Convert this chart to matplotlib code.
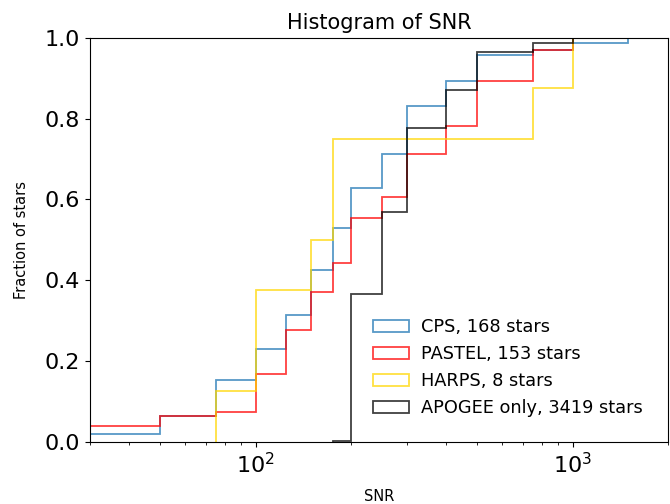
import numpy as np
import matplotlib
matplotlib.use("Agg")
import matplotlib.pyplot as plt

# SNR bin edges, outer edges sit beyond the plotted range
bin_edges = [20, 50, 75, 100, 125, 150, 175, 200, 250, 300, 400, 500, 750, 1000, 1500, 3000]

# cumulative fraction of stars in each bin
cps_frac = [0.021, 0.065, 0.153, 0.229, 0.314, 0.426, 0.529, 0.628, 0.713, 0.831,
            0.894, 0.958, 0.969, 0.988, 1.0]
pastel_frac = [0.039, 0.065, 0.075, 0.168, 0.278, 0.370, 0.444, 0.554, 0.606, 0.713,
               0.783, 0.894, 0.969, 1.0, 1.0]
harps_frac = [0.0, 0.0, 0.125, 0.375, 0.375, 0.5, 0.75, 0.75, 0.75, 0.75,
              0.75, 0.75, 0.875, 1.0, 1.0]
apogee_frac = [0.0, 0.0, 0.0, 0.0, 0.0, 0.0, 0.003, 0.366, 0.570, 0.776,
               0.871, 0.964, 0.986, 1.0, 1.0]

labels = ["CPS, 168 stars", "PASTEL, 153 stars", "HARPS, 8 stars", "APOGEE only, 3419 stars"]
colors = ["#1f77b4", "red", "gold", "black"]

fig = plt.figure(figsize=(6.7, 5.04), dpi=100)
ax = fig.add_axes([0.134, 0.123, 0.863, 0.802])

edges = np.array(bin_edges, dtype=float)
for frac, lab, col in zip([cps_frac, pastel_frac, harps_frac, apogee_frac], labels, colors):
    frac = np.array(frac)
    # skip the empty leading bins so the step starts where the sample does
    first = int(np.argmax(frac > 0))
    e = edges[first:]
    ax.hist(e[:-1], bins=e, weights=frac[first:], histtype="step",
            color=col, alpha=0.75, linewidth=1.3, label=lab)

ax.set_xscale("log")
ax.set_xlim(30, 2000)
ax.set_ylim(0, 1.0)
ax.set_yticks(np.arange(0, 1.01, 0.2))
ax.yaxis.set_major_formatter(matplotlib.ticker.FormatStrFormatter("%.1f"))
ax.tick_params(axis="both", which="major", labelsize=16)

ax.set_title("Histogram of SNR", fontsize=15)
ax.set_xlabel("SNR", fontsize=10.5, labelpad=9)
ax.set_ylabel("Fraction of stars", fontsize=10.5, labelpad=11)

ax.legend(loc="lower right", frameon=False, fontsize=12.8, handlelength=2.0,
          handletextpad=0.7, borderaxespad=1.0)

fig.savefig("out.png", dpi=100)
